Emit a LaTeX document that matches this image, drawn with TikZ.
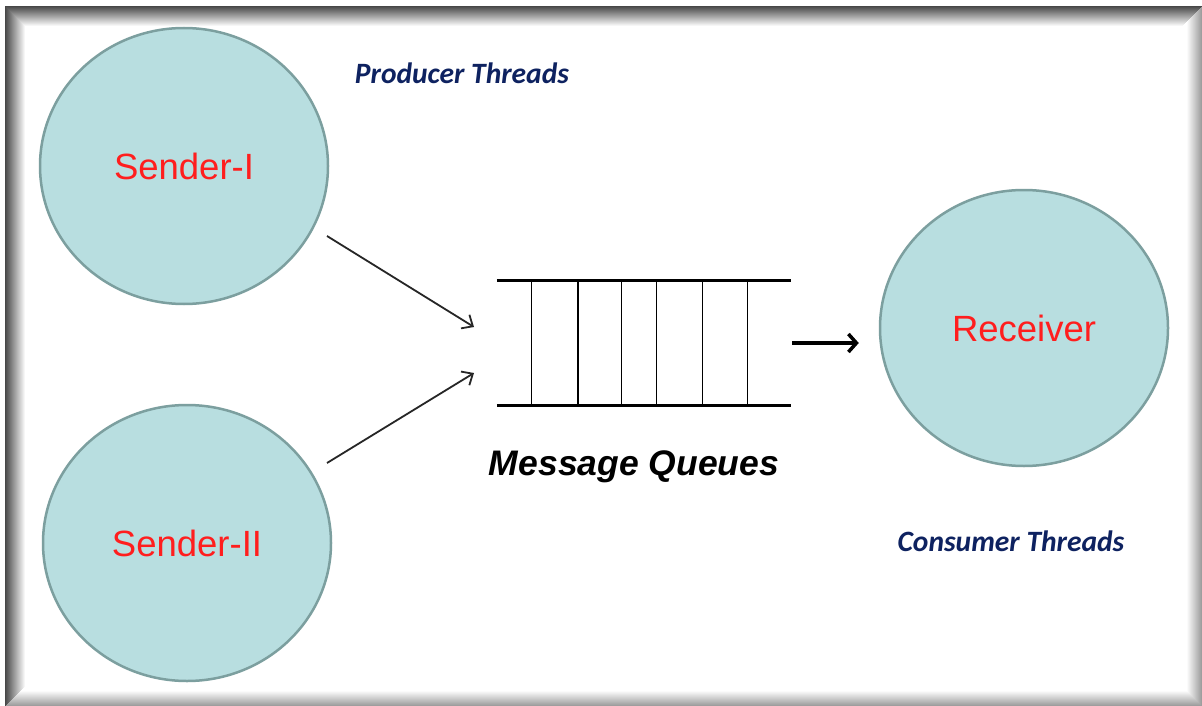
\documentclass[tikz,border=0pt]{standalone}
\usepackage{fontspec}
\setmainfont{Liberation Sans}
\newfontfamily\calfont{Carlito}
\usetikzlibrary{shapes.geometric,arrows.meta,calc}
\definecolor{bubble}{HTML}{B8DEE0}
\definecolor{bubbleedge}{HTML}{7C9F9F}
\definecolor{redtxt}{HTML}{FF1E1E}
\definecolor{navy}{HTML}{0E2260}
\tikzset{
  thread/.style={ellipse, minimum width=288pt, minimum height=276pt, inner sep=0pt,
    fill=bubble, draw=bubbleedge, line width=2.5pt, text=redtxt,
    font=\fontsize{36.5}{40}\selectfont},
  role/.style={text=navy, font=\calfont\bfseries\itshape\fontsize{29.5}{32}\selectfont},
  feed/.style={-{Straight Barb[length=9pt,width=16pt]}, line width=1.8pt, black!85},
  rail/.style={line width=3pt},
  rung/.style={line width=1.6pt},
  outflow/.style={-{Straight Barb[length=8pt,width=18pt]}, line width=3.5pt},
}
\begin{document}
\begin{tikzpicture}[x=1pt,y=-1pt]
\useasboundingbox (0,0) rectangle (1202,706);
\fill[white] (0,0) rectangle (1202,706);
% frame shadow, bottom/right
\foreach \i in {0,...,14}{
  \pgfmathsetmacro{\g}{38-2.6*\i}
  \draw[black!\g, line width=1pt] (1201.5-\i,6) -- (1201.5-\i,705.5-\i) -- (5,705.5-\i);
}
% frame shadow, top/left
\foreach \i in {0,...,19}{
  \pgfmathsetmacro{\g}{72-3.6*\i}
  \draw[black!\g, line width=1pt] (5.5+\i,706-\i) -- (5.5+\i,6.5+\i) -- (1202-\i,6.5+\i);
}

\node[thread] (s1) at (184,166) {Sender-I};
\node[thread] (s2) at (187,543) {Sender-II};
\node[thread] (r) at (1024,328) {Receiver};

\node[role] (prod) at (462,73) {Producer Threads};
\node[role] (cons) at (1011,541) {Consumer Threads};

\node[minimum width=294pt, minimum height=124pt, inner sep=0pt] (q) at (644,343) {};
\draw[rail] (q.north west) -- (q.north east);
\draw[rail] (q.south west) -- (q.south east);
\foreach \xx in {531.5,578,621.5,656.5,702.5,747.5}{
  \draw[rung] (\xx,281) -- (\xx,405);
}
\node[font=\bfseries\itshape\fontsize{35.5}{40}\selectfont] (ql) at (634,467) {Message Queues};

\coordinate (f1s) at (327,236);
\coordinate (f1e) at (474,327);
\coordinate (f2s) at (327,463);
\coordinate (f2e) at (474,373);
\draw[feed] (f1s) -- (f1e);
\draw[feed] (f2s) -- (f2e);

\draw[outflow, shorten <=1pt, shorten >=20pt] (q.east) -- (q.east -| r.west);
\end{tikzpicture}
\end{document}
